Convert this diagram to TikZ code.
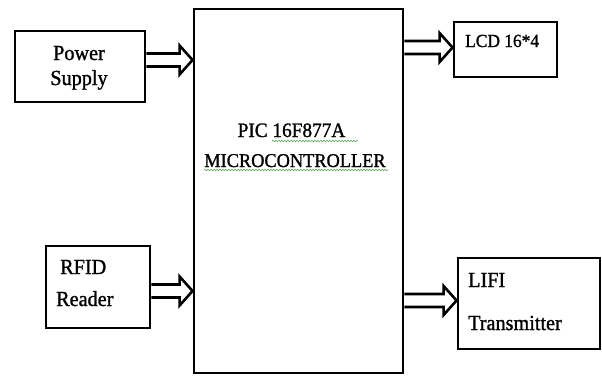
\documentclass[tikz,border=0pt]{standalone}
\usepackage{fontspec}
\setmainfont{Liberation Serif}[FakeBold=1.2,FakeStretch=0.94]
\usetikzlibrary{calc,decorations.pathmorphing}
\definecolor{spellgreen}{RGB}{90,170,90}
\newcommand\blockarr[2]{%
  \draw[arrline] ($(#1)+(0,-6.5)$) -- ($(#2)+(-13,-6.5)$) -- ($(#2)+(-13,-14.5)$) -- (#2)
    -- ($(#2)+(-13,14.5)$) -- ($(#2)+(-13,6.5)$) -- ($(#1)+(0,6.5)$);}
\begin{document}
\begin{tikzpicture}[x=1pt,y=-1pt,
  box/.style={draw=black,line width=2.9pt,rectangle,inner sep=0pt},
  arrline/.style={draw=black,line width=2.6pt,line join=miter},
  lbl/.style={inner sep=0pt,font=\fontsize{21.5}{25}\selectfont},
  wavy/.style={draw=spellgreen,line width=0.6pt,decorate,decoration={snake,segment length=3pt,amplitude=0.8pt}}]
\useasboundingbox[fill=white] (0,0) rectangle (602,376);
% boxes
\node[box,minimum width=130pt,minimum height=71pt] (ps) at (80,66.5) {};
\node[box,minimum width=209pt,minimum height=364pt] (mc) at (298.5,191) {};
\node[box,minimum width=103pt,minimum height=55pt] (lcd) at (505.5,49.5) {};
\node[box,minimum width=104pt,minimum height=82pt] (rfid) at (98,287) {};
\node[box,minimum width=142pt,minimum height=91pt] (lifi) at (529,303.5) {};
% texts
\node[lbl,anchor=base] (psa) at (79,60) {Power};
\node[lbl,anchor=base] (psb) at (79,85) {Supply};
\node[lbl,anchor=base,font=\fontsize{20.5}{24}\selectfont] (mc1) at (291.5,137) {PIC 16F877A};
\node[lbl,anchor=base,font=\fontsize{19.5}{24}\selectfont] (mc2) at (295,167) {MICROCONTROLLER};
\node[lbl,anchor=base west,font=\fontsize{18.5}{22}\selectfont] (lcdt) at (465,47) {LCD 16*4};
\node[lbl,anchor=base west] (rfa) at (60,274) {RFID};
\node[lbl,anchor=base west] (rfb) at (56,306) {Reader};
\node[lbl,anchor=base west] (lia) at (468,287) {LIFI};
\node[lbl,anchor=base west] (lib) at (468,330) {Transmitter};
% spell-check underlines
\draw[wavy] (272,141) -- (358,141);
\draw[wavy] (204,170) -- (388,170);
% arrows
\coordinate (a1s) at ([yshift=6.5pt]ps.east);
\coordinate (a1t) at (mc.west |- a1s);
\coordinate (a2t) at ([yshift=2pt]lcd.west);
\coordinate (a2s) at (mc.east |- a2t);
\coordinate (a3s) at ([yshift=-4pt]rfid.east);
\coordinate (a3t) at (mc.west |- a3s);
\coordinate (a4t) at ([yshift=3pt]lifi.west);
\coordinate (a4s) at (mc.east |- a4t);
\blockarr{a1s}{a1t}
\blockarr{a2s}{a2t}
\blockarr{a3s}{a3t}
\blockarr{a4s}{a4t}
\end{tikzpicture}
\end{document}
